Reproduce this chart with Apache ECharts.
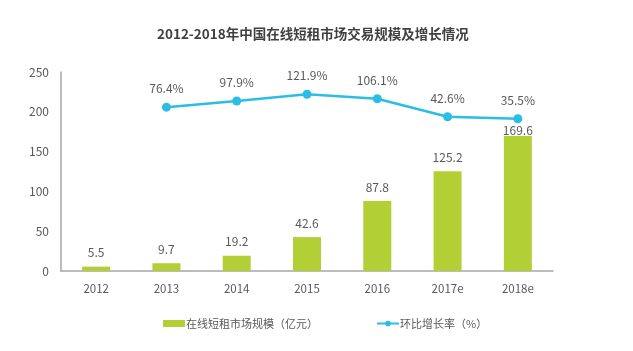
<!DOCTYPE html>
<html>
<head>
<meta charset="utf-8">
<script src="https://cdn.jsdelivr.net/npm/echarts@6/dist/echarts.min.js"></script>
<style>
    html,body{margin:0;padding:0;background:#fff;}
    #chart{width:633px;height:351px;}
</style>
</head>
<body>
<div id="chart"></div>
<script>
    const years = ['2012','2013','2014','2015','2016','2017e','2018e']
    const scale = [5.5, 9.7, 19.2, 42.6, 87.8, 125.2, 169.6]
    const growth = ['-', 76.4, 97.9, 121.9, 106.1, 42.6, 35.5]
    const yTicks = [0, 50, 100, 150, 200, 250]

    const font = '"Noto Sans CJK SC", "Noto Sans", sans-serif'
    const mychart = echarts.init(document.getElementById('chart'))

    // last bar label sits right under the line point
    const barData = scale.map((v,i)=> i===scale.length-1 ? {value:v,label:{distance:0}} : v)

    mychart.setOption({
        textStyle:{fontFamily:font},
        title:{
            text:'2012-2018年中国在线短租市场交易规模及增长情况',
            left:152,
            top:22,
            textStyle:{fontSize:13.5,fontWeight:'bold',color:'#404040',fontFamily:font}
        },
        legend:{
            top:313,
            left:158,
            itemGap:58,
            itemWidth:22,
            itemHeight:7,
            textStyle:{color:'#595959',fontSize:11,fontFamily:font,padding:[0,0,0,-4]},
            data:[
                {name:'在线短租市场规模（亿元）',icon:'rect'},
                {name:'环比增长率（%）',itemStyle:{borderWidth:0}}
            ]
        },
        grid:{left:61,right:80,top:72,bottom:80},
        xAxis:{
            type:'category',
            data:years,
            axisLine:{lineStyle:{color:'#a6a6a6',width:1.5}},
            axisTick:{show:false},
            axisLabel:{color:'#595959',fontSize:11.5,margin:12}
        },
        yAxis:[
            {
                type:'value',
                min:yTicks[0],
                max:yTicks[yTicks.length-1],
                interval:50,
                axisLine:{show:true,lineStyle:{color:'#a6a6a6',width:1.5}},
                axisTick:{show:false},
                splitLine:{show:false},
                axisLabel:{color:'#595959',fontSize:12,margin:12}
            },
            {
                type:'value',
                min:-500,
                max:200,
                show:false,
                splitLine:{show:false}
            }
        ],
        series:[
            {
                name:'在线短租市场规模（亿元）',
                type:'bar',
                data:barData,
                barWidth:28,
                itemStyle:{color:'#b3cf36'},
                label:{show:true,position:'top',distance:8,color:'#595959',fontSize:12}
            },
            {
                name:'环比增长率（%）',
                type:'line',
                yAxisIndex:1,
                data:growth,
                symbol:'circle',
                symbolSize:9,
                lineStyle:{color:'#2cbde6',width:2.5},
                itemStyle:{color:'#2cbde6'},
                label:{show:true,position:'top',distance:8,color:'#595959',fontSize:12,formatter:'{c}%'}
            }
        ]
    })
</script>
</body>
</html>
